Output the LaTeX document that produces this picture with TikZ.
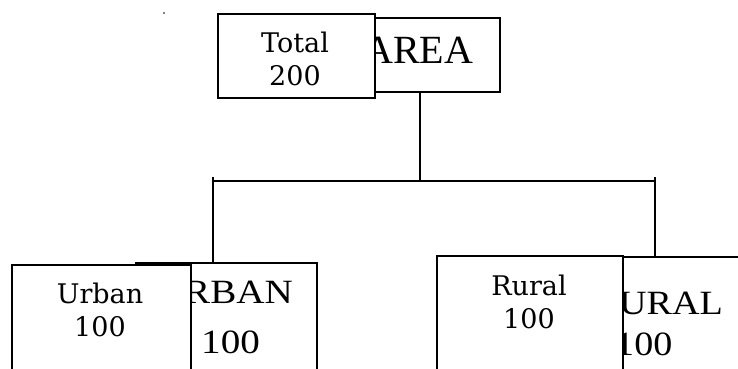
\documentclass[tikz,border=0pt]{standalone}
\usepackage{fontspec}
\usepackage{graphicx}
\newfontfamily\bkfont{Liberation Serif}
\newfontfamily\frfont{DejaVu Serif}
\tikzset{
  boxshape/.style={draw=black, fill=white, line width=1.6pt, rectangle, inner sep=0pt, anchor=north west},
  frontlbl/.style={inner sep=0pt, anchor=base, font=\frfont\fontsize{27}{31}\selectfont},
  backlbl/.style={inner sep=0pt, anchor=base west, font=\bkfont\fontsize{34}{40}\selectfont},
  conn/.style={draw=black, line width=1.6pt}
}
\begin{document}
\begin{tikzpicture}[x=1pt, y=-1pt]
\useasboundingbox (0,0) rectangle (738,368);
\clip (0,0) rectangle (738,368);
\fill[white] (0,0) rectangle (738,368);
% stray dot
\fill[black] (164,13) circle (0.8);
% back boxes
\node[boxshape, minimum width=158pt, minimum height=74pt] (areaback) at (341,17) {};
\node[boxshape, minimum width=181pt, minimum height=140pt] (urbanback) at (135,262) {};
\node[boxshape, minimum width=280pt, minimum height=145pt] (ruralback) at (480,256) {};
% back labels
\node[backlbl, font=\bkfont\fontsize{40}{46}\selectfont] (areatxt) at (364,63) {AREA};
\node[backlbl] (rbantxt) at (184,303) {\scalebox{1.15}[1]{RBAN}};
\node[backlbl] (rban100) at (201,353) {\scalebox{1.15}[1]{100}};
\node[backlbl] (uraltxt) at (619,314) {\scalebox{1.12}[1]{URAL}};
\node[backlbl] (ural100) at (615,355) {\scalebox{1.12}[1]{100}};
% connectors
\coordinate (areadrop) at (420,181);
\coordinate (lefttop) at (213,177);
\coordinate (righttop) at (655,177);
\coordinate (leftj) at (213,181);
\coordinate (rightj) at (655,181);
\draw[conn] (areaback.south -| areadrop) -- (areadrop);
\draw[conn] (leftj) -- (rightj);
\draw[conn] (lefttop) -- (lefttop |- urbanback.north);
\draw[conn] (righttop) -- (righttop |- ruralback.north);
% front boxes
\node[boxshape, minimum width=157pt, minimum height=84pt] (total) at (217,13) {};
\node[boxshape, minimum width=179pt, minimum height=140pt] (urban) at (11,264) {};
\node[boxshape, minimum width=186pt, minimum height=150pt] (rural) at (436,255) {};
% front labels
\node[frontlbl] (totaltxt) at (295,52) {Total};
\node[frontlbl] (total200) at (295,85) {200};
\node[frontlbl] (urbantxt) at (100,303) {Urban};
\node[frontlbl] (urban100) at (100,336) {100};
\node[frontlbl] (ruraltxt) at (529,295) {Rural};
\node[frontlbl] (rural100) at (529,328) {100};
\end{tikzpicture}
\end{document}
